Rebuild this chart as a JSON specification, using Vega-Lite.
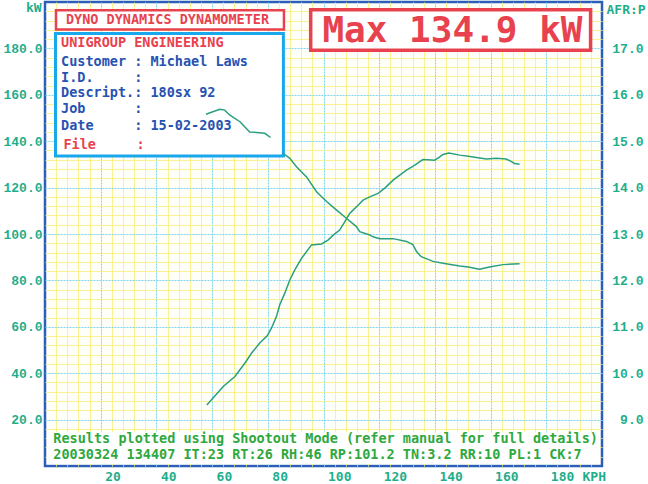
{
  "$schema": "https://vega.github.io/schema/vega-lite/v6.json",
  "width": 557,
  "height": 464,
  "autosize": "none",
  "padding": {"left": 45, "top": 2, "right": 46, "bottom": 18},
  "background": "#ffffff",
  "config": {
    "view": {"stroke": "#2b5fb8", "strokeWidth": 2.5, "fill": "#fffffa"},
    "text": {"font": "DejaVu Sans Mono", "fontWeight": "bold", "fontSize": 13.5, "align": "left", "baseline": "middle"}
  },
  "encoding": {
    "x": {"field": "kph", "type": "quantitative", "scale": {"domain": [0, 200], "nice": false, "zero": false},
      "axis": {
        "values": [4,8,12,16,20,24,28,32,36,40,44,48,52,56,60,64,68,72,76,80,84,88,92,96,100,104,108,112,116,120,124,128,132,136,140,144,148,152,156,160,164,168,172,176,180,184,188,192,196],
        "labelExpr": "datum.value % 20 === 0 && datum.value < 200 ? datum.value : ''",
        "labelAlign": "left", "labelOffset": 4, "labelBaseline": "middle", "labelPadding": 10,
        "labelColor": "#1fae8c", "labelFont": "DejaVu Sans Mono", "labelFontSize": 13, "labelFontWeight": "bold",
        "labelOverlap": false, "labelBound": false, "labelFlush": false,
        "ticks": false, "tickSize": 0, "domain": false,
        "grid": true,
        "gridColor": {"condition": {"test": "datum.value % 20 === 0", "value": "#80d2f2"}, "value": "#f6ed72"},
        "gridDash": {"condition": {"test": "datum.value % 20 === 0", "value": [2, 1]}, "value": [1, 0]},
        "gridWidth": 1,
        "title": "KPH", "titleX": 537, "titleY": 10, "titleAlign": "left", "titleBaseline": "middle",
        "titleColor": "#1fae8c", "titleFont": "DejaVu Sans Mono", "titleFontSize": 13, "titleFontWeight": "bold"
      }}
  },
  "layer": [
    {
      "encoding": {
        "y": {"field": "kw", "type": "quantitative", "scale": {"domain": [0, 200], "nice": false, "zero": false},
          "axis": {
            "values": [4,8,12,16,20,24,28,32,36,40,44,48,52,56,60,64,68,72,76,80,84,88,92,96,100,104,108,112,116,120,124,128,132,136,140,144,148,152,156,160,164,168,172,176,180,184,188,192,196],
            "labelExpr": "datum.value % 20 === 0 && datum.value < 200 ? format(datum.value, '.1f') : ''",
            "labelPadding": 3, "labelColor": "#1fae8c", "labelFont": "Liberation Mono", "labelFontSize": 13, "labelFontWeight": "bold",
            "labelOverlap": false, "labelBound": false, "labelFlush": false,
            "ticks": false, "tickSize": 0, "domain": false,
            "grid": true,
            "gridColor": {"condition": {"test": "datum.value % 20 === 0", "value": "#80d2f2"}, "value": "#f6ed72"},
            "gridDash": {"condition": {"test": "datum.value % 20 === 0", "value": [2, 1]}, "value": [1, 0]},
            "gridWidth": 1,
            "title": null
          }}
      },
      "layer": [
        {
          "data": {"values": [{"kph": 0.8, "kph2": 199.2, "kw": 0.8, "kw2": 14.5}]},
          "mark": {"type": "rect", "fill": "#ffffff", "stroke": null},
          "encoding": {"x2": {"field": "kph2"}, "y2": {"field": "kw2"}}
        },
        {
          "data": {"values": [{"kph": 3.95, "kph2": 85.8, "kw": 196.4, "kw2": 188.1}]},
          "mark": {"type": "rect", "fill": "#ffffff", "stroke": "#e8424e", "strokeWidth": 2.5},
          "encoding": {"x2": {"field": "kph2"}, "y2": {"field": "kw2"}}
        },
        {
          "data": {"values": [{"kph": 3.77, "kph2": 85.6, "kw": 186.4, "kw2": 133.6}]},
          "mark": {"type": "rect", "fill": "#ffffff", "stroke": "#1aa8ec", "strokeWidth": 3},
          "encoding": {"x2": {"field": "kph2"}, "y2": {"field": "kw2"}}
        },
        {
          "data": {"values": [{"kph": 95.4, "kph2": 195.9, "kw": 196.7, "kw2": 179.2}]},
          "mark": {"type": "rect", "fill": "#ffffff", "stroke": "#e8424e", "strokeWidth": 3.5},
          "encoding": {"x2": {"field": "kph2"}, "y2": {"field": "kw2"}}
        },
        {
          "data": {"values": [{"t": "kW", "kph": -1.2, "kw": 197.4}]},
          "mark": {"type": "text", "color": "#1fae8c", "fontSize": 13, "align": "right"},
          "encoding": {"text": {"field": "t"}}
        },
        {
          "data": {"values": [
            {"t": "DYNO DYNAMICS DYNAMOMETER", "kph": 7.5, "kw": 192.2},
            {"t": "UNIGROUP ENGINEERING", "kph": 5.75, "kw": 182.3},
            {"t": "File\u00a0\u00a0\u00a0\u00a0\u00a0:", "kph": 6.6, "kw": 138.4}
          ]},
          "mark": {"type": "text", "color": "#e8424e"},
          "encoding": {"text": {"field": "t"}}
        },
        {
          "data": {"values": [
            {"t": "Customer\u00a0:\u00a0Michael\u00a0Laws", "kph": 5.75, "kw": 174.1},
            {"t": "I.D.\u00a0\u00a0\u00a0\u00a0\u00a0:", "kph": 5.75, "kw": 167.2},
            {"t": "Descript.:\u00a0180sx\u00a092", "kph": 5.75, "kw": 160.6},
            {"t": "Job\u00a0\u00a0\u00a0\u00a0\u00a0\u00a0:", "kph": 5.75, "kw": 153.8},
            {"t": "Date\u00a0\u00a0\u00a0\u00a0\u00a0:\u00a015-02-2003", "kph": 5.75, "kw": 146.6}
          ]},
          "mark": {"type": "text", "color": "#2652b2"},
          "encoding": {"text": {"field": "t"}}
        },
        {
          "data": {"values": [
            {"t": "Results plotted using Shootout Mode (refer manual for full details)", "kph": 3.0, "kw": 11.5},
            {"t": "20030324 134407 IT:23 RT:26 RH:46 RP:101.2 TN:3.2 RR:10 PL:1 CK:7", "kph": 3.0, "kw": 4.7}
          ]},
          "mark": {"type": "text", "color": "#2fa83e"},
          "encoding": {"text": {"field": "t"}}
        },
        {
          "data": {"values": [{"t": "Max 134.9 kW", "kph": 146.3, "kw": 187.7}]},
          "mark": {"type": "text", "color": "#e8424e", "fontSize": 36, "align": "center"},
          "encoding": {"text": {"field": "t"}}
        },
        {
          "data": {"values": [
            {"kph": 58.1, "kw": 26.3}, {"kph": 60.5, "kw": 29.5}, {"kph": 64.0, "kw": 34.3}, {"kph": 68.2, "kw": 38.6},
            {"kph": 71.8, "kw": 44.4}, {"kph": 74.2, "kw": 48.7}, {"kph": 77.1, "kw": 53.0}, {"kph": 79.8, "kw": 56.1},
            {"kph": 81.3, "kw": 59.4}, {"kph": 83.1, "kw": 64.4}, {"kph": 84.3, "kw": 69.5}, {"kph": 86.1, "kw": 74.5},
            {"kph": 87.9, "kw": 80.2}, {"kph": 89.7, "kw": 84.5}, {"kph": 92.1, "kw": 89.5}, {"kph": 95.7, "kw": 95.3},
            {"kph": 99.3, "kw": 95.7}, {"kph": 101.6, "kw": 97.4}, {"kph": 103.5, "kw": 99.5}, {"kph": 105.8, "kw": 101.7},
            {"kph": 107.5, "kw": 105.0}, {"kph": 109.4, "kw": 108.9}, {"kph": 110.6, "kw": 110.3}, {"kph": 112.5, "kw": 112.5},
            {"kph": 114.2, "kw": 114.6}, {"kph": 117.0, "kw": 116.2}, {"kph": 119.6, "kw": 117.5}, {"kph": 122.0, "kw": 119.8},
            {"kph": 125.0, "kw": 123.2}, {"kph": 127.5, "kw": 125.5}, {"kph": 129.8, "kw": 127.5}, {"kph": 132.5, "kw": 129.5},
            {"kph": 135.7, "kw": 132.1}, {"kph": 137.5, "kw": 132.0}, {"kph": 139.9, "kw": 131.8}, {"kph": 141.5, "kw": 133.0},
            {"kph": 142.9, "kw": 134.3}, {"kph": 145.0, "kw": 134.9}, {"kph": 148.9, "kw": 134.0}, {"kph": 152.0, "kw": 133.5},
            {"kph": 154.9, "kw": 133.0}, {"kph": 158.5, "kw": 132.3}, {"kph": 162.0, "kw": 132.6}, {"kph": 165.6, "kw": 132.3},
            {"kph": 167.5, "kw": 131.2}, {"kph": 168.6, "kw": 130.4}, {"kph": 170.4, "kw": 130.1}
          ]},
          "mark": {"type": "line", "color": "#2a9f80", "strokeWidth": 1.5}
        }
      ]
    },
    {
      "data": {"values": [
        {"seg": 1, "kph": 57.8, "afr": 15.58}, {"seg": 1, "kph": 60.0, "afr": 15.63}, {"seg": 1, "kph": 62.8, "afr": 15.69},
        {"seg": 1, "kph": 64.5, "afr": 15.67}, {"seg": 1, "kph": 66.4, "afr": 15.56}, {"seg": 1, "kph": 70.0, "afr": 15.42},
        {"seg": 1, "kph": 73.5, "afr": 15.20}, {"seg": 1, "kph": 75.9, "afr": 15.19}, {"seg": 1, "kph": 78.9, "afr": 15.17},
        {"seg": 1, "kph": 81.0, "afr": 15.08},
        {"seg": 2, "kph": 85.5, "afr": 14.74}, {"seg": 2, "kph": 87.9, "afr": 14.63}, {"seg": 2, "kph": 90.3, "afr": 14.45},
        {"seg": 2, "kph": 93.9, "afr": 14.23}, {"seg": 2, "kph": 97.5, "afr": 13.91}, {"seg": 2, "kph": 101.1, "afr": 13.70},
        {"seg": 2, "kph": 104.6, "afr": 13.52}, {"seg": 2, "kph": 108.2, "afr": 13.34}, {"seg": 2, "kph": 111.8, "afr": 13.16},
        {"seg": 2, "kph": 113.0, "afr": 13.05}, {"seg": 2, "kph": 116.6, "afr": 12.98}, {"seg": 2, "kph": 117.8, "afr": 12.94},
        {"seg": 2, "kph": 120.2, "afr": 12.90}, {"seg": 2, "kph": 125.0, "afr": 12.90}, {"seg": 2, "kph": 129.8, "afr": 12.84},
        {"seg": 2, "kph": 132.1, "afr": 12.77}, {"seg": 2, "kph": 133.4, "afr": 12.62}, {"seg": 2, "kph": 135.1, "afr": 12.51},
        {"seg": 2, "kph": 139.3, "afr": 12.41}, {"seg": 2, "kph": 142.9, "afr": 12.37}, {"seg": 2, "kph": 148.9, "afr": 12.31},
        {"seg": 2, "kph": 152.0, "afr": 12.29}, {"seg": 2, "kph": 156.0, "afr": 12.24}, {"seg": 2, "kph": 159.6, "afr": 12.29},
        {"seg": 2, "kph": 164.4, "afr": 12.34}, {"seg": 2, "kph": 170.4, "afr": 12.36}
      ]},
      "mark": {"type": "line", "color": "#2a9f80", "strokeWidth": 1.5},
      "encoding": {
        "y": {"field": "afr", "type": "quantitative", "scale": {"domain": [8, 18], "nice": false, "zero": false},
          "axis": {
            "orient": "right",
            "values": [9, 10, 11, 12, 13, 14, 15, 16, 17],
            "labelExpr": "format(datum.value, '.1f')",
            "labelAlign": "right", "labelPadding": 41,
            "labelColor": "#1fae8c", "labelFont": "Liberation Mono", "labelFontSize": 13, "labelFontWeight": "bold",
            "labelOverlap": false, "labelBound": false, "labelFlush": false,
            "ticks": false, "tickSize": 0, "domain": false, "grid": false,
            "title": "AFR:P", "titleAngle": 0, "titleX": 4, "titleY": 7, "titleAlign": "left", "titleBaseline": "middle",
            "titleColor": "#1fae8c", "titleFont": "DejaVu Sans Mono", "titleFontSize": 13, "titleFontWeight": "bold"
          }},
        "detail": {"field": "seg", "type": "nominal"}
      }
    }
  ],
  "resolve": {"scale": {"y": "independent"}, "axis": {"y": "independent"}}
}
